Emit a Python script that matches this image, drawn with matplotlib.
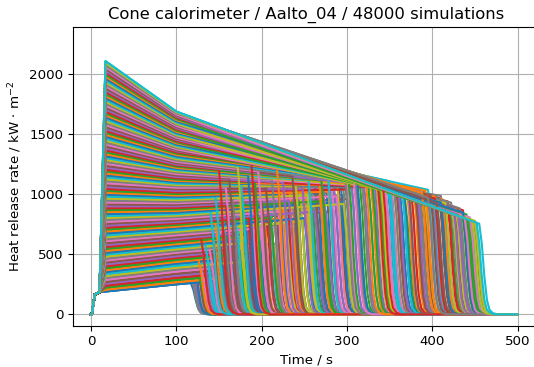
import numpy as np
import matplotlib.pyplot as plt

# one entry per material profile: level after the ignition peak (~17 s), trend levels at 100 s and 400 s
hrr_peak = [190, 205, 222, 238, 255, 270, 287, 303, 318, 335, 352, 367, 383, 400, 415, 432, 448, 463, 480, 497,
            512, 528, 545, 561, 577, 593, 610, 625, 642, 657, 674, 690, 706, 722, 738, 755, 770, 787, 803, 819,
            835, 852, 868, 884, 900, 916, 932, 948, 965, 981, 997, 1013, 1029, 1045, 1061, 1077, 1093, 1110, 1126, 1142,
            1158, 1174, 1190, 1206, 1222, 1238, 1255, 1271, 1287, 1303, 1319, 1335, 1351, 1368, 1384, 1400, 1416, 1432, 1448, 1464,
            1480, 1497, 1513, 1529, 1545, 1561, 1577, 1593, 1610, 1626, 1642, 1658, 1674, 1690, 1706, 1722, 1739, 1755, 1771, 1787,
            1803, 1819, 1835, 1852, 1868, 1884, 1900, 1916, 1932, 1948, 1964, 1981, 1997, 2013, 2029, 2045, 2061, 2077, 2094, 2110]
hrr_100 = [250, 267, 286, 304, 322, 338, 356, 373, 388, 405, 422, 437, 453, 470, 483, 499, 513, 527, 542, 557,
           571, 585, 600, 615, 629, 644, 659, 673, 688, 701, 717, 731, 745, 758, 770, 784, 796, 810, 822, 835,
           848, 862, 874, 887, 900, 913, 926, 938, 952, 965, 978, 990, 1003, 1016, 1029, 1042, 1055, 1067, 1078, 1089,
           1101, 1112, 1123, 1134, 1145, 1157, 1169, 1180, 1191, 1202, 1211, 1221, 1231, 1241, 1250, 1260, 1271, 1282, 1294, 1305,
           1316, 1328, 1339, 1350, 1360, 1366, 1376, 1386, 1396, 1406, 1415, 1425, 1434, 1444, 1454, 1463, 1473, 1483, 1493, 1502,
           1512, 1521, 1531, 1541, 1551, 1560, 1570, 1580, 1589, 1599, 1609, 1619, 1628, 1639, 1648, 1657, 1666, 1675, 1684, 1690]
hrr_400 = [445, 462, 481, 499, 517, 533, 551, 568, 583, 600, 617, 632, 648, 665, 678, 694, 708, 722, 737, 752,
           766, 780, 795, 810, 824, 824, 839, 850, 862, 875, 885, 896, 910, 920, 929, 940, 949, 960, 972, 976,
           983, 988, 994, 998, 1005, 1012, 1016, 1022, 1030, 1034, 1038, 1044, 1048, 1052, 1059, 1057, 1061, 1058, 1054, 1050,
           1050, 1046, 1042, 1038, 1034, 1037, 1034, 1030, 1032, 1034, 1031, 1029, 1027, 1025, 1022, 1020, 1022, 1024, 1024, 1026,
           1028, 1028, 1030, 1032, 1030, 975, 968, 1000, 950, 960, 975, 1020, 945, 970, 985, 990, 940, 980, 925, 1030,
           950, 980, 915, 960, 930, 985, 905, 975, 895, 990, 930, 985, 890, 950, 905, 940, 895, 960, 900, 900]

# burn-out times of three sample thicknesses for each profile
t_end_a = [117, 121, 118, 125, 119, 128, 122, 116, 131, 185, 124, 134, 120, 129, 138, 123, 220, 133, 126, 142,
           119, 200, 136, 127, 145, 135, 160, 240, 130, 185, 265, 140, 210, 290, 133, 175, 250, 144, 195, 280,
           137, 230, 165, 300, 180, 205, 270, 150, 225, 245, 285, 190, 258, 160, 215, 310, 175, 235, 345, 200,
           265, 370, 155, 290, 330, 215, 250, 385, 170, 305, 275, 355, 190, 240, 320, 380, 225, 295, 360, 160,
           260, 340, 208, 390, 280, 300, 395, 240, 410, 330, 385, 200, 420, 350, 400, 270, 415, 365, 430, 185,
           405, 375, 435, 310, 425, 390, 440, 255, 445, 398, 432, 340, 448, 418, 438, 220, 450, 412, 443, 455]
t_end_b = [150, 165, 138, 178, 145, 190, 155, 170, 142, 160, 183, 148, 196, 158, 175, 140, 205, 168, 152, 188,
           163, 212, 147, 180, 156, 150, 215, 175, 255, 145, 195, 235, 158, 205, 275, 148, 188, 262, 168, 228,
           292, 152, 245, 182, 268, 162, 218, 295, 172, 208, 155, 278, 198, 238, 285, 165, 282, 198, 252, 325,
           178, 232, 338, 205, 272, 352, 185, 312, 244, 168, 365, 222, 298, 358, 192, 262, 335, 212, 288, 372,
           182, 248, 318, 228, 348, 358, 318, 410, 342, 402, 292, 378, 325, 418, 305, 388, 352, 405, 335, 395,
           362, 412, 315, 382, 345, 408, 372, 422, 392, 328, 415, 403, 368, 436, 385, 426, 345, 432, 424, 446]
t_end_c = [132, 146, 127, 158, 135, 162, 129, 141, 168, 137, 152, 126, 173, 143, 131, 165, 139, 149, 176, 134,
           157, 144, 171, 129, 166, 142, 198, 156, 228, 170, 250, 146, 210, 185, 262, 153, 222, 178, 296, 140,
           240, 192, 272, 158, 232, 200, 288, 166, 254, 146, 220, 268, 176, 300, 248, 205, 158, 318, 240, 176,
           348, 268, 192, 375, 225, 162, 300, 212, 340, 255, 184, 328, 270, 150, 382, 236, 196, 310, 172, 278,
           366, 218, 302, 188, 332, 380, 345, 298, 415, 365, 312, 392, 330, 403, 360, 398, 308, 385, 428, 350,
           410, 322, 440, 336, 425, 372, 444, 355, 450, 348, 436, 388, 442, 342, 430, 405, 438, 395, 447, 452]

# shared ignition ramp and burn-out tail
ramp_t = [0, 1, 4.5, 10]
ramp_hrr = [0, 0, 165, 185]
drop_dt = [0, 3, 6, 9, 12, 16, 22]
drop_frac = [1.0, 0.78, 0.42, 0.16, 0.05, 0.012, 0.0]

fig = plt.figure(figsize=(5.34, 3.67), dpi=100)
ax = fig.add_axes([0.1373, 0.1125, 0.872, 0.813])

for t_end in (t_end_a, t_end_b, t_end_c):
    for hp, h1, h4, te in zip(hrr_peak, hrr_100, hrr_400, t_end):
        he = h1 + (h4 - h1) * (te - 100) / 300
        t = ramp_t + [17, 100] + [te + d for d in drop_dt] + [500]
        q = ramp_hrr + [hp, h1] + [he * f for f in drop_frac] + [0]
        ax.plot(t, q)

ax.set_xlim(-20.7, 525)
ax.set_ylim(-95, 2392)
ax.set_xticks(np.arange(0, 501, 100))
ax.set_yticks(np.arange(0, 2001, 500))
ax.tick_params(labelsize=9.6)
ax.grid(True)
ax.set_xlabel("Time / s", fontsize=9.6)
ax.set_ylabel(r"Heat release rate / kW $\cdot$ m$^{-2}$", fontsize=9.6)
ax.set_title("Cone calorimeter / Aalto_04 / 48000 simulations", fontsize=11.8)

fig.savefig("out.png", dpi=100)
